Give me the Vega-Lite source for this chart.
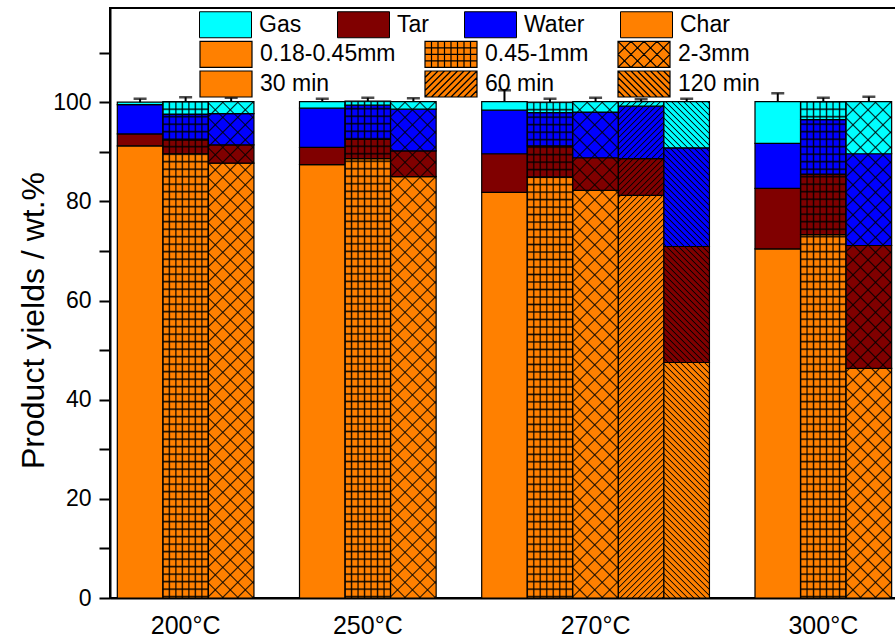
{
"$schema": "https://vega.github.io/schema/vega-lite/v6.json",
"width": 787,
"height": 590,
"autosize": {"type": "none"},
"padding": {"left": 110, "top": 8, "right": -2, "bottom": 42},
"background": "white",
"config": {"font": "Liberation Sans", "view": {"stroke": "black", "strokeWidth": 2}},
"params": [
{"name": "dstops", "value": [
{"offset":0,"color":"#000e"},{"offset":0.002,"color":"#0000"},
{"offset":0.008,"color":"#0000"},{"offset":0.01,"color":"#000e"},{"offset":0.012,"color":"#0000"},
{"offset":0.018,"color":"#0000"},{"offset":0.02,"color":"#000e"},{"offset":0.022,"color":"#0000"},
{"offset":0.028,"color":"#0000"},{"offset":0.03,"color":"#000e"},{"offset":0.032,"color":"#0000"},
{"offset":0.038,"color":"#0000"},{"offset":0.04,"color":"#000e"},{"offset":0.042,"color":"#0000"},
{"offset":0.048,"color":"#0000"},{"offset":0.05,"color":"#000e"},{"offset":0.052,"color":"#0000"},
{"offset":0.058,"color":"#0000"},{"offset":0.06,"color":"#000e"},{"offset":0.062,"color":"#0000"},
{"offset":0.068,"color":"#0000"},{"offset":0.07,"color":"#000e"},{"offset":0.072,"color":"#0000"},
{"offset":0.078,"color":"#0000"},{"offset":0.08,"color":"#000e"},{"offset":0.082,"color":"#0000"},
{"offset":0.088,"color":"#0000"},{"offset":0.09,"color":"#000e"},{"offset":0.092,"color":"#0000"},
{"offset":0.098,"color":"#0000"},{"offset":0.1,"color":"#000e"},{"offset":0.102,"color":"#0000"},
{"offset":0.108,"color":"#0000"},{"offset":0.11,"color":"#000e"},{"offset":0.112,"color":"#0000"},
{"offset":0.118,"color":"#0000"},{"offset":0.12,"color":"#000e"},{"offset":0.122,"color":"#0000"},
{"offset":0.128,"color":"#0000"},{"offset":0.13,"color":"#000e"},{"offset":0.132,"color":"#0000"},
{"offset":0.138,"color":"#0000"},{"offset":0.14,"color":"#000e"},{"offset":0.142,"color":"#0000"},
{"offset":0.148,"color":"#0000"},{"offset":0.15,"color":"#000e"},{"offset":0.152,"color":"#0000"},
{"offset":0.158,"color":"#0000"},{"offset":0.16,"color":"#000e"},{"offset":0.162,"color":"#0000"},
{"offset":0.168,"color":"#0000"},{"offset":0.17,"color":"#000e"},{"offset":0.172,"color":"#0000"},
{"offset":0.178,"color":"#0000"},{"offset":0.18,"color":"#000e"},{"offset":0.182,"color":"#0000"},
{"offset":0.188,"color":"#0000"},{"offset":0.19,"color":"#000e"},{"offset":0.192,"color":"#0000"},
{"offset":0.198,"color":"#0000"},{"offset":0.2,"color":"#000e"},{"offset":0.202,"color":"#0000"},
{"offset":0.208,"color":"#0000"},{"offset":0.21,"color":"#000e"},{"offset":0.212,"color":"#0000"},
{"offset":0.218,"color":"#0000"},{"offset":0.22,"color":"#000e"},{"offset":0.222,"color":"#0000"},
{"offset":0.228,"color":"#0000"},{"offset":0.23,"color":"#000e"},{"offset":0.232,"color":"#0000"},
{"offset":0.238,"color":"#0000"},{"offset":0.24,"color":"#000e"},{"offset":0.242,"color":"#0000"},
{"offset":0.248,"color":"#0000"},{"offset":0.25,"color":"#000e"},{"offset":0.252,"color":"#0000"},
{"offset":0.258,"color":"#0000"},{"offset":0.26,"color":"#000e"},{"offset":0.262,"color":"#0000"},
{"offset":0.268,"color":"#0000"},{"offset":0.27,"color":"#000e"},{"offset":0.272,"color":"#0000"},
{"offset":0.278,"color":"#0000"},{"offset":0.28,"color":"#000e"},{"offset":0.282,"color":"#0000"},
{"offset":0.288,"color":"#0000"},{"offset":0.29,"color":"#000e"},{"offset":0.292,"color":"#0000"},
{"offset":0.298,"color":"#0000"},{"offset":0.3,"color":"#000e"},{"offset":0.302,"color":"#0000"},
{"offset":0.308,"color":"#0000"},{"offset":0.31,"color":"#000e"},{"offset":0.312,"color":"#0000"},
{"offset":0.318,"color":"#0000"},{"offset":0.32,"color":"#000e"},{"offset":0.322,"color":"#0000"},
{"offset":0.328,"color":"#0000"},{"offset":0.33,"color":"#000e"},{"offset":0.332,"color":"#0000"},
{"offset":0.338,"color":"#0000"},{"offset":0.34,"color":"#000e"},{"offset":0.342,"color":"#0000"},
{"offset":0.348,"color":"#0000"},{"offset":0.35,"color":"#000e"},{"offset":0.352,"color":"#0000"},
{"offset":0.358,"color":"#0000"},{"offset":0.36,"color":"#000e"},{"offset":0.362,"color":"#0000"},
{"offset":0.368,"color":"#0000"},{"offset":0.37,"color":"#000e"},{"offset":0.372,"color":"#0000"},
{"offset":0.378,"color":"#0000"},{"offset":0.38,"color":"#000e"},{"offset":0.382,"color":"#0000"},
{"offset":0.388,"color":"#0000"},{"offset":0.39,"color":"#000e"},{"offset":0.392,"color":"#0000"},
{"offset":0.398,"color":"#0000"},{"offset":0.4,"color":"#000e"},{"offset":0.402,"color":"#0000"},
{"offset":0.408,"color":"#0000"},{"offset":0.41,"color":"#000e"},{"offset":0.412,"color":"#0000"},
{"offset":0.418,"color":"#0000"},{"offset":0.42,"color":"#000e"},{"offset":0.422,"color":"#0000"},
{"offset":0.428,"color":"#0000"},{"offset":0.43,"color":"#000e"},{"offset":0.432,"color":"#0000"},
{"offset":0.438,"color":"#0000"},{"offset":0.44,"color":"#000e"},{"offset":0.442,"color":"#0000"},
{"offset":0.448,"color":"#0000"},{"offset":0.45,"color":"#000e"},{"offset":0.452,"color":"#0000"},
{"offset":0.458,"color":"#0000"},{"offset":0.46,"color":"#000e"},{"offset":0.462,"color":"#0000"},
{"offset":0.468,"color":"#0000"},{"offset":0.47,"color":"#000e"},{"offset":0.472,"color":"#0000"},
{"offset":0.478,"color":"#0000"},{"offset":0.48,"color":"#000e"},{"offset":0.482,"color":"#0000"},
{"offset":0.488,"color":"#0000"},{"offset":0.49,"color":"#000e"},{"offset":0.492,"color":"#0000"},
{"offset":0.498,"color":"#0000"},{"offset":0.5,"color":"#000e"},{"offset":0.502,"color":"#0000"},
{"offset":0.508,"color":"#0000"},{"offset":0.51,"color":"#000e"},{"offset":0.512,"color":"#0000"},
{"offset":0.518,"color":"#0000"},{"offset":0.52,"color":"#000e"},{"offset":0.522,"color":"#0000"},
{"offset":0.528,"color":"#0000"},{"offset":0.53,"color":"#000e"},{"offset":0.532,"color":"#0000"},
{"offset":0.538,"color":"#0000"},{"offset":0.54,"color":"#000e"},{"offset":0.542,"color":"#0000"},
{"offset":0.548,"color":"#0000"},{"offset":0.55,"color":"#000e"},{"offset":0.552,"color":"#0000"},
{"offset":0.558,"color":"#0000"},{"offset":0.56,"color":"#000e"},{"offset":0.562,"color":"#0000"},
{"offset":0.568,"color":"#0000"},{"offset":0.57,"color":"#000e"},{"offset":0.572,"color":"#0000"},
{"offset":0.578,"color":"#0000"},{"offset":0.58,"color":"#000e"},{"offset":0.582,"color":"#0000"},
{"offset":0.588,"color":"#0000"},{"offset":0.59,"color":"#000e"},{"offset":0.592,"color":"#0000"},
{"offset":0.598,"color":"#0000"},{"offset":0.6,"color":"#000e"},{"offset":0.602,"color":"#0000"},
{"offset":0.608,"color":"#0000"},{"offset":0.61,"color":"#000e"},{"offset":0.612,"color":"#0000"},
{"offset":0.618,"color":"#0000"},{"offset":0.62,"color":"#000e"},{"offset":0.622,"color":"#0000"},
{"offset":0.628,"color":"#0000"},{"offset":0.63,"color":"#000e"},{"offset":0.632,"color":"#0000"},
{"offset":0.638,"color":"#0000"},{"offset":0.64,"color":"#000e"},{"offset":0.642,"color":"#0000"},
{"offset":0.648,"color":"#0000"},{"offset":0.65,"color":"#000e"},{"offset":0.652,"color":"#0000"},
{"offset":0.658,"color":"#0000"},{"offset":0.66,"color":"#000e"},{"offset":0.662,"color":"#0000"},
{"offset":0.668,"color":"#0000"},{"offset":0.67,"color":"#000e"},{"offset":0.672,"color":"#0000"},
{"offset":0.678,"color":"#0000"},{"offset":0.68,"color":"#000e"},{"offset":0.682,"color":"#0000"},
{"offset":0.688,"color":"#0000"},{"offset":0.69,"color":"#000e"},{"offset":0.692,"color":"#0000"},
{"offset":0.698,"color":"#0000"},{"offset":0.7,"color":"#000e"},{"offset":0.702,"color":"#0000"},
{"offset":0.708,"color":"#0000"},{"offset":0.71,"color":"#000e"},{"offset":0.712,"color":"#0000"},
{"offset":0.718,"color":"#0000"},{"offset":0.72,"color":"#000e"},{"offset":0.722,"color":"#0000"},
{"offset":0.728,"color":"#0000"},{"offset":0.73,"color":"#000e"},{"offset":0.732,"color":"#0000"},
{"offset":0.738,"color":"#0000"},{"offset":0.74,"color":"#000e"},{"offset":0.742,"color":"#0000"},
{"offset":0.748,"color":"#0000"},{"offset":0.75,"color":"#000e"},{"offset":0.752,"color":"#0000"},
{"offset":0.758,"color":"#0000"},{"offset":0.76,"color":"#000e"},{"offset":0.762,"color":"#0000"},
{"offset":0.768,"color":"#0000"},{"offset":0.77,"color":"#000e"},{"offset":0.772,"color":"#0000"},
{"offset":0.778,"color":"#0000"},{"offset":0.78,"color":"#000e"},{"offset":0.782,"color":"#0000"},
{"offset":0.788,"color":"#0000"},{"offset":0.79,"color":"#000e"},{"offset":0.792,"color":"#0000"},
{"offset":0.798,"color":"#0000"},{"offset":0.8,"color":"#000e"},{"offset":0.802,"color":"#0000"},
{"offset":0.808,"color":"#0000"},{"offset":0.81,"color":"#000e"},{"offset":0.812,"color":"#0000"},
{"offset":0.818,"color":"#0000"},{"offset":0.82,"color":"#000e"},{"offset":0.822,"color":"#0000"},
{"offset":0.828,"color":"#0000"},{"offset":0.83,"color":"#000e"},{"offset":0.832,"color":"#0000"},
{"offset":0.838,"color":"#0000"},{"offset":0.84,"color":"#000e"},{"offset":0.842,"color":"#0000"},
{"offset":0.848,"color":"#0000"},{"offset":0.85,"color":"#000e"},{"offset":0.852,"color":"#0000"},
{"offset":0.858,"color":"#0000"},{"offset":0.86,"color":"#000e"},{"offset":0.862,"color":"#0000"},
{"offset":0.868,"color":"#0000"},{"offset":0.87,"color":"#000e"},{"offset":0.872,"color":"#0000"},
{"offset":0.878,"color":"#0000"},{"offset":0.88,"color":"#000e"},{"offset":0.882,"color":"#0000"},
{"offset":0.888,"color":"#0000"},{"offset":0.89,"color":"#000e"},{"offset":0.892,"color":"#0000"},
{"offset":0.898,"color":"#0000"},{"offset":0.9,"color":"#000e"},{"offset":0.902,"color":"#0000"}
]},
{"name": "xstops", "value": [
{"offset":0,"color":"#000d"},{"offset":0.0025,"color":"#0000"},
{"offset":0.0225,"color":"#0000"},{"offset":0.025,"color":"#000d"},{"offset":0.0275,"color":"#0000"},
{"offset":0.0475,"color":"#0000"},{"offset":0.05,"color":"#000d"},{"offset":0.0525,"color":"#0000"},
{"offset":0.0725,"color":"#0000"},{"offset":0.075,"color":"#000d"},{"offset":0.0775,"color":"#0000"},
{"offset":0.0975,"color":"#0000"},{"offset":0.1,"color":"#000d"},{"offset":0.1025,"color":"#0000"},
{"offset":0.1225,"color":"#0000"},{"offset":0.125,"color":"#000d"},{"offset":0.1275,"color":"#0000"},
{"offset":0.1475,"color":"#0000"},{"offset":0.15,"color":"#000d"},{"offset":0.1525,"color":"#0000"},
{"offset":0.1725,"color":"#0000"},{"offset":0.175,"color":"#000d"},{"offset":0.1775,"color":"#0000"},
{"offset":0.1975,"color":"#0000"},{"offset":0.2,"color":"#000d"},{"offset":0.2025,"color":"#0000"},
{"offset":0.2225,"color":"#0000"},{"offset":0.225,"color":"#000d"},{"offset":0.2275,"color":"#0000"},
{"offset":0.2475,"color":"#0000"},{"offset":0.25,"color":"#000d"},{"offset":0.2525,"color":"#0000"},
{"offset":0.2725,"color":"#0000"},{"offset":0.275,"color":"#000d"},{"offset":0.2775,"color":"#0000"},
{"offset":0.2975,"color":"#0000"},{"offset":0.3,"color":"#000d"},{"offset":0.3025,"color":"#0000"},
{"offset":0.3225,"color":"#0000"},{"offset":0.325,"color":"#000d"},{"offset":0.3275,"color":"#0000"},
{"offset":0.3475,"color":"#0000"},{"offset":0.35,"color":"#000d"},{"offset":0.3525,"color":"#0000"},
{"offset":0.3725,"color":"#0000"},{"offset":0.375,"color":"#000d"},{"offset":0.3775,"color":"#0000"},
{"offset":0.3975,"color":"#0000"},{"offset":0.4,"color":"#000d"},{"offset":0.4025,"color":"#0000"},
{"offset":0.4225,"color":"#0000"},{"offset":0.425,"color":"#000d"},{"offset":0.4275,"color":"#0000"},
{"offset":0.4475,"color":"#0000"},{"offset":0.45,"color":"#000d"},{"offset":0.4525,"color":"#0000"},
{"offset":0.4725,"color":"#0000"},{"offset":0.475,"color":"#000d"},{"offset":0.4775,"color":"#0000"},
{"offset":0.4975,"color":"#0000"},{"offset":0.5,"color":"#000d"},{"offset":0.5025,"color":"#0000"},
{"offset":0.5225,"color":"#0000"},{"offset":0.525,"color":"#000d"},{"offset":0.5275,"color":"#0000"},
{"offset":0.5475,"color":"#0000"},{"offset":0.55,"color":"#000d"},{"offset":0.5525,"color":"#0000"},
{"offset":0.5725,"color":"#0000"},{"offset":0.575,"color":"#000d"},{"offset":0.5775,"color":"#0000"},
{"offset":0.5975,"color":"#0000"},{"offset":0.6,"color":"#000d"},{"offset":0.6025,"color":"#0000"},
{"offset":0.6225,"color":"#0000"},{"offset":0.625,"color":"#000d"},{"offset":0.6275,"color":"#0000"},
{"offset":0.6475,"color":"#0000"},{"offset":0.65,"color":"#000d"},{"offset":0.6525,"color":"#0000"},
{"offset":0.6725,"color":"#0000"},{"offset":0.675,"color":"#000d"},{"offset":0.6775,"color":"#0000"},
{"offset":0.6975,"color":"#0000"},{"offset":0.7,"color":"#000d"},{"offset":0.7025,"color":"#0000"},
{"offset":0.7225,"color":"#0000"},{"offset":0.725,"color":"#000d"},{"offset":0.7275,"color":"#0000"},
{"offset":0.7475,"color":"#0000"},{"offset":0.75,"color":"#000d"},{"offset":0.7525,"color":"#0000"},
{"offset":0.7725,"color":"#0000"},{"offset":0.775,"color":"#000d"},{"offset":0.7775,"color":"#0000"},
{"offset":0.7975,"color":"#0000"},{"offset":0.8,"color":"#000d"},{"offset":0.8025,"color":"#0000"},
{"offset":0.8225,"color":"#0000"},{"offset":0.825,"color":"#000d"},{"offset":0.8275,"color":"#0000"},
{"offset":0.8475,"color":"#0000"},{"offset":0.85,"color":"#000d"},{"offset":0.8525,"color":"#0000"},
{"offset":0.8725,"color":"#0000"},{"offset":0.875,"color":"#000d"},{"offset":0.8775,"color":"#0000"},
{"offset":0.8975,"color":"#0000"},{"offset":0.9,"color":"#000d"},{"offset":0.9025,"color":"#0000"}
]}
],
"datasets": {
"segs": [
{"bar":"200a","pattern":"0.18-0.45mm","component":"Char","value":91.2},
{"bar":"200a","pattern":"0.18-0.45mm","component":"Tar","value":2.4},
{"bar":"200a","pattern":"0.18-0.45mm","component":"Water","value":5.9},
{"bar":"200a","pattern":"0.18-0.45mm","component":"Gas","value":0.5},
{"bar":"200b","pattern":"0.45-1mm","component":"Char","value":89.6},
{"bar":"200b","pattern":"0.45-1mm","component":"Tar","value":2.8},
{"bar":"200b","pattern":"0.45-1mm","component":"Water","value":5.2},
{"bar":"200b","pattern":"0.45-1mm","component":"Gas","value":2.5},
{"bar":"200c","pattern":"2-3mm","component":"Char","value":87.7},
{"bar":"200c","pattern":"2-3mm","component":"Tar","value":3.7},
{"bar":"200c","pattern":"2-3mm","component":"Water","value":6.3},
{"bar":"200c","pattern":"2-3mm","component":"Gas","value":2.4},
{"bar":"250a","pattern":"0.18-0.45mm","component":"Char","value":87.4},
{"bar":"250a","pattern":"0.18-0.45mm","component":"Tar","value":3.5},
{"bar":"250a","pattern":"0.18-0.45mm","component":"Water","value":7.9},
{"bar":"250a","pattern":"0.18-0.45mm","component":"Gas","value":1.3},
{"bar":"250b","pattern":"0.45-1mm","component":"Char","value":88.6},
{"bar":"250b","pattern":"0.45-1mm","component":"Tar","value":3.9},
{"bar":"250b","pattern":"0.45-1mm","component":"Water","value":6.9},
{"bar":"250b","pattern":"0.45-1mm","component":"Gas","value":0.8},
{"bar":"250c","pattern":"2-3mm","component":"Char","value":85.0},
{"bar":"250c","pattern":"2-3mm","component":"Tar","value":5.2},
{"bar":"250c","pattern":"2-3mm","component":"Water","value":8.4},
{"bar":"250c","pattern":"2-3mm","component":"Gas","value":1.5},
{"bar":"270a","pattern":"0.18-0.45mm","component":"Char","value":81.8},
{"bar":"270a","pattern":"0.18-0.45mm","component":"Tar","value":7.8},
{"bar":"270a","pattern":"0.18-0.45mm","component":"Water","value":8.8},
{"bar":"270a","pattern":"0.18-0.45mm","component":"Gas","value":1.7},
{"bar":"270b","pattern":"0.45-1mm","component":"Char","value":84.9},
{"bar":"270b","pattern":"0.45-1mm","component":"Tar","value":6.3},
{"bar":"270b","pattern":"0.45-1mm","component":"Water","value":6.7},
{"bar":"270b","pattern":"0.45-1mm","component":"Gas","value":2.1},
{"bar":"270c","pattern":"2-3mm","component":"Char","value":82.2},
{"bar":"270c","pattern":"2-3mm","component":"Tar","value":6.6},
{"bar":"270c","pattern":"2-3mm","component":"Water","value":9.2},
{"bar":"270c","pattern":"2-3mm","component":"Gas","value":2.1},
{"bar":"270d","pattern":"60 min","component":"Char","value":81.2},
{"bar":"270d","pattern":"60 min","component":"Tar","value":7.4},
{"bar":"270d","pattern":"60 min","component":"Water","value":10.6},
{"bar":"270d","pattern":"60 min","component":"Gas","value":0.9},
{"bar":"270e","pattern":"120 min","component":"Char","value":47.5},
{"bar":"270e","pattern":"120 min","component":"Tar","value":23.4},
{"bar":"270e","pattern":"120 min","component":"Water","value":19.9},
{"bar":"270e","pattern":"120 min","component":"Gas","value":9.3},
{"bar":"300a","pattern":"0.18-0.45mm","component":"Char","value":70.4},
{"bar":"300a","pattern":"0.18-0.45mm","component":"Tar","value":12.2},
{"bar":"300a","pattern":"0.18-0.45mm","component":"Water","value":9.1},
{"bar":"300a","pattern":"0.18-0.45mm","component":"Gas","value":8.4},
{"bar":"300b","pattern":"0.45-1mm","component":"Char","value":73.3},
{"bar":"300b","pattern":"0.45-1mm","component":"Tar","value":12.2},
{"bar":"300b","pattern":"0.45-1mm","component":"Water","value":11.0},
{"bar":"300b","pattern":"0.45-1mm","component":"Gas","value":3.6},
{"bar":"300c","pattern":"2-3mm","component":"Char","value":46.3},
{"bar":"300c","pattern":"2-3mm","component":"Tar","value":24.8},
{"bar":"300c","pattern":"2-3mm","component":"Water","value":18.5},
{"bar":"300c","pattern":"2-3mm","component":"Gas","value":10.5}
],
"errs": [
{"bar":"200a","top":100.7},{"bar":"200b","top":101.0},{"bar":"200c","top":100.9},
{"bar":"250a","top":100.7},{"bar":"250b","top":100.9},{"bar":"250c","top":100.8},
{"bar":"270a","top":102.4},{"bar":"270b","top":100.7},{"bar":"270c","top":100.9},{"bar":"270d","top":100.6},{"bar":"270e","top":100.7},
{"bar":"300a","top":101.8},{"bar":"300b","top":100.9},{"bar":"300c","top":101.1}
],
"comps": [
{"component":"Char","rank":1},{"component":"Tar","rank":2},{"component":"Water","rank":3},{"component":"Gas","rank":4}
]
},
"encoding": {
"x": {"field": "bar", "type": "nominal",
 "scale": {"domain": ["200a","200b","200c","g1","250a","250b","250c","g2","270a","270b","270c","270d","270e","g3","300a","300b","300c"], "paddingInner": 0, "paddingOuter": 0.139, "align": 0.577},
 "axis": {"title": null, "ticks": false, "labelAngle": 0, "labelOverlap": false, "labelBound": false,
  "labelExpr": "datum.value == '200b' ? '200°C' : datum.value == '250b' ? '250°C' : datum.value == '270c' ? '270°C' : datum.value == '300b' ? '300°C' : ''",
  "labelFont": "Liberation Sans", "labelFontSize": 25, "labelColor": "black", "labelPadding": 15,
  "domainColor": "black", "domainWidth": 2, "grid": false}}
},
"layer": [
{
 "data": {"name": "segs"},
 "transform": [{"lookup": "component", "from": {"data": {"name": "comps"}, "key": "component", "fields": ["rank"]}}],
 "mark": {"type": "bar", "stroke": "black", "strokeWidth": 1.2},
 "encoding": {
  "y": {"field": "value", "type": "quantitative", "stack": "zero", "scale": {"domain": [0, 119], "nice": false},
   "axis": {"title": "Product yields / wt.%", "titleFont": "Liberation Sans", "titleFontSize": 32, "titleFontWeight": "normal", "titleColor": "black", "titlePadding": 2, "titleY": 312,
    "values": [0,10,20,30,40,50,60,70,80,90,100,110],
    "labelExpr": "datum.value % 20 === 0 ? datum.label : ''",
    "labelFont": "Liberation Sans", "labelFontSize": 23, "labelColor": "black", "labelPadding": 8,
    "tickSize": 11,
    "encode": {"ticks": {"update": {"x2": {"signal": "datum.value % 20 === 0 ? -11 : -6"}}}},
    "tickColor": "black", "tickWidth": 2, "domainColor": "black", "domainWidth": 2, "grid": false}},
  "order": {"field": "rank", "type": "quantitative"},
  "fill": {"field": "component", "type": "nominal",
   "scale": {"domain": ["Gas","Tar","Water","Char"], "range": ["#00FFFF","#800000","#0000FF","#FF8000"]},
   "legend": {"title": null, "orient": "none", "legendX": 89, "legendY": 3, "direction": "horizontal", "columns": 4, "gridAlign": "each", "columnPadding": 33, "padding": 0,
    "symbolType": "M-1,-1H3V1H-1Z", "symbolSize": 676, "symbolStrokeColor": "black", "symbolStrokeWidth": 1, "symbolOpacity": 1,
    "labelFont": "Liberation Sans", "labelFontSize": 23, "labelColor": "black", "labelOffset": 33, "labelLimit": 300,
    "encode": {"symbols": {"update": {"stroke": {"value": "black"}, "strokeWidth": {"value": 1}}}}}},
  "opacity": {"field": "pattern", "type": "ordinal",
   "scale": {"domain": ["0.18-0.45mm","0.45-1mm","2-3mm","30 min","60 min","120 min"], "range": [1,1,1,1,1,1]},
   "legend": {"title": null, "orient": "none", "legendX": 89, "legendY": 32, "direction": "horizontal", "columns": 3, "gridAlign": "each", "columnPadding": 26, "rowPadding": -3, "padding": 0,
    "symbolType": "M-1,-1H3V1H-1Z", "symbolSize": 676, "symbolFillColor": "#FF8000", "symbolStrokeColor": "black", "symbolStrokeWidth": 1, "symbolOpacity": 1,
    "labelFont": "Liberation Sans", "labelFontSize": 23, "labelColor": "black", "labelOffset": 33, "labelLimit": 300,
    "encode": {"symbols": {"update": {
     "shape": {"signal": "datum.value === '0.45-1mm' ? 'M-1,-1H3V1H-1Z M-0.5,-1V1 M0,-1V1 M0.5,-1V1 M1,-1V1 M1.5,-1V1 M2,-1V1 M2.5,-1V1 M-1,-0.5H3 M-1,0H3 M-1,0.5H3' : datum.value === '2-3mm' ? 'M-1,-1H3V1H-1Z M-1,0L0,-1 M-1,1L1,-1 M0,1L2,-1 M1,1L3,-1 M2,1L3,0 M-1,0L0,1 M-1,-1L1,1 M0,-1L2,1 M1,-1L3,1 M2,-1L3,0' : datum.value === '60 min' ? 'M-1,-1H3V1H-1Z M-1,-0.5L-0.5,-1 M-1,0L0,-1 M-1,0.5L0.5,-1 M-1,1L1,-1 M-0.5,1L1.5,-1 M0,1L2,-1 M0.5,1L2.5,-1 M1,1L3,-1 M1.5,1L3,-0.5 M2,1L3,0 M2.5,1L3,0.5' : datum.value === '120 min' ? 'M-1,-1H3V1H-1Z M-1,0.5L-0.5,1 M-1,0L0,1 M-1,-0.5L0.5,1 M-1,-1L1,1 M-0.5,-1L1.5,1 M0,-1L2,1 M0.5,-1L2.5,1 M1,-1L3,1 M1.5,-1L3,0.5 M2,-1L3,0 M2.5,-1L3,-0.5' : 'M-1,-1H3V1H-1Z'"},
     "fill": {"value": "#FF8000"}, "stroke": {"value": "black"}, "strokeWidth": {"value": 1.2}, "opacity": {"value": 1}}}}}}
 }
},
{
 "data": {"name": "segs"},
 "transform": [{"filter": "datum.pattern === '0.45-1mm'"}],
 "mark": {"type": "bar", "fill": {"expr": "{gradient:'linear',x1:0,y1:0.5,x2:14.27,y2:0.5,stops:dstops}"}},
 "encoding": {"y": {"aggregate": "sum", "field": "value", "type": "quantitative", "scale": {"domain": [0, 119], "nice": false}}}
},
{
 "data": {"name": "segs"},
 "transform": [{"filter": "datum.pattern === '0.45-1mm'"}],
 "mark": {"type": "bar", "fill": {"expr": "{gradient:'linear',x1:0.5,y1:0,x2:0.5,y2:1.511,stops:dstops}"}},
 "encoding": {"y": {"aggregate": "sum", "field": "value", "type": "quantitative", "scale": {"domain": [0, 119], "nice": false}}}
},
{
 "data": {"name": "segs"},
 "transform": [{"filter": "datum.pattern === '2-3mm'"}],
 "mark": {"type": "bar", "fill": {"expr": "{gradient:'linear',x1:0,y1:0,x2:0.11,y2:1.199,stops:xstops}"}},
 "encoding": {"y": {"aggregate": "sum", "field": "value", "type": "quantitative", "scale": {"domain": [0, 119], "nice": false}}}
},
{
 "data": {"name": "segs"},
 "transform": [{"filter": "datum.pattern === '2-3mm'"}],
 "mark": {"type": "bar", "fill": {"expr": "{gradient:'linear',x1:0,y1:1,x2:0.11,y2:-0.199,stops:xstops}"}},
 "encoding": {"y": {"aggregate": "sum", "field": "value", "type": "quantitative", "scale": {"domain": [0, 119], "nice": false}}}
},
{
 "data": {"name": "segs"},
 "transform": [{"filter": "datum.pattern === '60 min'"}],
 "mark": {"type": "bar", "fill": {"expr": "{gradient:'linear',x1:0,y1:0,x2:0.11,y2:1.199,stops:dstops}"}},
 "encoding": {"y": {"aggregate": "sum", "field": "value", "type": "quantitative", "scale": {"domain": [0, 119], "nice": false}}}
},
{
 "data": {"name": "segs"},
 "transform": [{"filter": "datum.pattern === '120 min'"}],
 "mark": {"type": "bar", "fill": {"expr": "{gradient:'linear',x1:0,y1:1,x2:0.11,y2:-0.199,stops:dstops}"}},
 "encoding": {"y": {"aggregate": "sum", "field": "value", "type": "quantitative", "scale": {"domain": [0, 119], "nice": false}}}
},
{
 "data": {"name": "segs"},
 "transform": [
  {"aggregate": [{"op": "sum", "field": "value", "as": "total"}], "groupby": ["bar"]},
  {"lookup": "bar", "from": {"data": {"name": "errs"}, "key": "bar", "fields": ["top"]}}
 ],
 "layer": [
  {"mark": {"type": "rule", "color": "black", "strokeWidth": 2},
   "encoding": {"y": {"field": "total", "type": "quantitative", "scale": {"domain": [0, 119], "nice": false}}, "y2": {"field": "top"}}},
  {"mark": {"type": "tick", "color": "black", "thickness": 2.5, "size": 13},
   "encoding": {"y": {"field": "top", "type": "quantitative", "scale": {"domain": [0, 119], "nice": false}}}}
 ]
}
]
}
